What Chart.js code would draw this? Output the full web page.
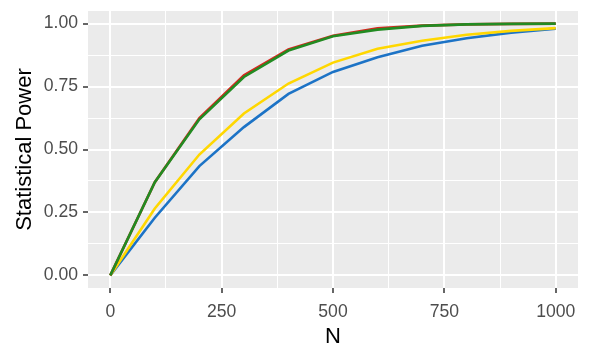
<!DOCTYPE html>
<html>
<head>
<meta charset="utf-8">
<script src="https://cdn.jsdelivr.net/npm/chart.js@4"></script>
<style>
  html, body { margin: 0; padding: 0; background: #fff; }
  #wrap { width: 590px; height: 355px; }
</style>
</head>
<body>
<div id="wrap"><canvas id="myChart" width="590" height="355"></canvas></div>
<script>
// sample sizes
const nValues = [0, 100, 200, 300, 400, 500, 600, 700, 800, 900, 1000];

// power curves
const redPower    = [0, 0.37, 0.625, 0.795, 0.897, 0.952, 0.981, 0.992, 0.997, 0.999, 1.0];
const greenPower  = [0, 0.37, 0.620, 0.788, 0.893, 0.950, 0.976, 0.991, 0.997, 0.999, 1.0];
const yellowPower = [0, 0.266, 0.48, 0.643, 0.762, 0.845, 0.90, 0.932, 0.956, 0.971, 0.982];
const bluePower   = [0, 0.229, 0.434, 0.589, 0.721, 0.808, 0.866, 0.912, 0.942, 0.964, 0.980];

const xTicks = [0, 250, 500, 750, 1000];
const yTicks = [0, 0.25, 0.5, 0.75, 1];

const fontFam = "'Liberation Sans', Arial, Helvetica, sans-serif";

function toPoints(vals) {
    let pts = [];
    for (let i = 0; i < nValues.length; i++) {
        pts.push({ x: nValues[i], y: vals[i] });
    }
    return pts;
}

function line(vals, color) {
    return {
        data: toPoints(vals),
        borderColor: color,
        borderWidth: 2.6,
        pointRadius: 0,
        tension: 0,
        fill: false
    };
}

// gray panel like ggplot
const panelBg = {
    id: 'panelBg',
    beforeDraw(chart) {
        const { ctx, chartArea: a } = chart;
        ctx.save();
        ctx.fillStyle = '#EBEBEB';
        ctx.fillRect(a.left, a.top, a.right - a.left, a.bottom - a.top);
        ctx.restore();
    }
};

function isMajor(v, list) {
    return list.some(t => Math.abs(t - v) < 1e-9);
}

const ctx = document.getElementById('myChart');

const myChart = new Chart(ctx, {
    type: 'line',
    data: {
        // first dataset is drawn on top
        datasets: [
            line(greenPower, '#228B22'),
            line(redPower, '#D7261E'),
            line(yellowPower, '#FFD700'),
            line(bluePower, '#1C73C6')
        ]
    },
    options: {
        responsive: false,
        animation: false,
        layout: { padding: { top: 11, right: 12, left: 0, bottom: 0 } },
        plugins: { legend: { display: false }, tooltip: { enabled: false } },
        scales: {
            x: {
                type: 'linear',
                min: -50,
                max: 1050,
                afterBuildTicks: (s) => {
                    s.ticks = [0, 125, 250, 375, 500, 625, 750, 875, 1000].map(v => ({ value: v }));
                },
                afterFit: (s) => {
                    s.height = 67;
                    s.paddingLeft = 0;
                    s.paddingRight = 0;
                },
                border: { display: false },
                grid: {
                    color: '#FFFFFF',
                    lineWidth: (c) => isMajor(c.tick.value, xTicks) ? 2 : 1,
                    tickColor: (c) => isMajor(c.tick.value, xTicks) ? '#333333' : 'rgba(0,0,0,0)',
                    tickWidth: 1.5,
                    tickLength: 5
                },
                ticks: {
                    autoSkip: false,
                    maxRotation: 0,
                    padding: 9,
                    color: '#4D4D4D',
                    font: { family: fontFam, size: 17.6 },
                    callback: (v) => isMajor(v, xTicks) ? String(v) : ''
                },
                title: {
                    display: true,
                    text: 'N',
                    color: '#000000',
                    font: { family: fontFam, size: 22 },
                    padding: { top: 0, bottom: 5 }
                }
            },
            y: {
                type: 'linear',
                min: -0.05,
                max: 1.05,
                afterBuildTicks: (s) => {
                    s.ticks = [0, 0.125, 0.25, 0.375, 0.5, 0.625, 0.75, 0.875, 1].map(v => ({ value: v }));
                },
                afterFit: (s) => {
                    s.width = 88;
                    s.paddingTop = 0;
                    s.paddingBottom = 0;
                },
                border: { display: false },
                grid: {
                    color: '#FFFFFF',
                    lineWidth: (c) => isMajor(c.tick.value, yTicks) ? 2 : 1,
                    tickColor: (c) => isMajor(c.tick.value, yTicks) ? '#333333' : 'rgba(0,0,0,0)',
                    tickWidth: 1.5,
                    tickLength: 5
                },
                ticks: {
                    autoSkip: false,
                    padding: 5,
                    color: '#4D4D4D',
                    font: { family: fontFam, size: 17.6 },
                    callback: (v) => isMajor(v, yTicks) ? v.toFixed(2) : ''
                },
                title: {
                    display: true,
                    text: 'Statistical Power',
                    color: '#000000',
                    font: { family: fontFam, size: 22 },
                    padding: { top: 12, bottom: 0 }
                }
            }
        }
    },
    plugins: [panelBg]
});
</script>
</body>
</html>
